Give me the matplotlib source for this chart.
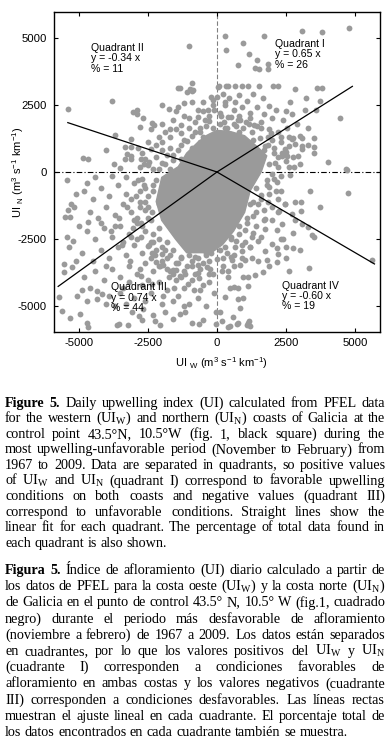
import numpy as np
import matplotlib
matplotlib.use("Agg")
from matplotlib import pyplot as plt
from matplotlib.patches import Polygon

plt.rcParams['axes.unicode_minus'] = False
plt.rcParams['mathtext.fontset'] = 'custom'
plt.rcParams['mathtext.rm'] = 'Liberation Serif'
plt.rcParams['mathtext.sf'] = 'Liberation Sans'

# --- datos (UI oeste, UI norte) ---
q1_x = [290, 1700, 3070, 3810, 4790, 330, 930, 1160, 770, 1440, 1380, 1520, 1860, 1830,
        70, 330, 650, 900, 1120, 1520, 2030, 2200, 2820, 3210, 3610, 3810, 3730, 4450,
        2730, 2820, 3090, 3500, 3090, 3510, 2520, 2940, 2490, 4660, 3510, 4030, 4700,
        3570, 2760, 3070, 2460, 2760, 2220, 2790,
        200, 450, 800, 1100, 1300, 1650, 1900, 2150, 2500, 2700, 2400, 2000, 1700, 1450,
        1200, 900, 600, 300, 100, 400, 750, 1050, 1350, 1600, 1900, 2200, 2550, 2900,
        3300, 3000, 2600, 2300, 2050, 1850, 1750, 2200, 2500, 3000, 3300, 3200, 2650,
        100, 350, 700, 50, 410,
        250, 600, 950, 1250, 1550, 1850, 2050, 2100, 2350, 150, 500, 850, 1150, 1450,
        2000, 2450, 800, 1200, 1600, 300, 650,
        1950, 2300, 2600, 2350, 2600]
q1_y = [5050, 5050, 5250, 5190, 5360, 4530, 4810, 4370, 3990, 4180, 3870, 3840, 4020, 3820,
        3200, 3200, 3200, 3200, 3200, 3200, 3200, 3200, 3070, 2750, 3120, 3120, 2650, 2000,
        1230, 1040, 1260, 1260, 860, 920, 610, 610, 735, 110, 690, 370, 60,
        2300, 1280, 960, 745, 560, 560, 190,
        2900, 2750, 2850, 2650, 2900, 2750, 2450, 2300, 2250, 2150, 1950, 2000, 2150, 2400,
        2200, 2400, 2300, 2500, 2200, 2050, 1950, 1850, 1750, 1650, 1600, 1500, 1650, 1800,
        1650, 1350, 1300, 1100, 900, 1300, 950, 200, 400, 300, 1000, 2300, 2600,
        1800, 1650, 1700, 3170, 3200,
        1850, 1800, 1650, 1500, 1250, 1000, 700, 350, 600, 2100, 2050, 1950, 1800, 1700,
        1200, 850, 2100, 2000, 1850, 2600, 2600,
        1450, 1300, 950, 700, 200]

q2_x = [-1000, -3800, -5400, -920, -1100, -1410, -900, -3050, -2900, -2880, -2670, -1740,
        -1980, -2340, -2280, -1980, -1580, -2790, -2380, -3120, -3700, -3320, -3120, -3250,
        -3120, -3340, -2860, -4840, -4670, -3730, -2760, -2640, -2460,
        -1900, -1700, -1500, -1300, -1200, -1000, -800, -600, -400, -300, -700, -1200,
        -1500, -2100, -2200, -2500, -2000, -1700, -1400, -1900, -2200, -1600, -2100, -2700,
        -3500, -4000, -200, -500, -900, -600, -350, -980, -860, -1340, -1400, -1200, -130,
        -10, -310,
        -2500, -2000, -1600, -1300, -900, -600, -300, -100, -1800, -1100, -800, -450,
        -2300, -2600, -2400, -2000, -1700, -1300, -1000, -700, -500, -150, -2800, -3100]
q2_y = [4700, 2650, 2330, 3310, 2975, 3120, 3010, 2230, 2290, 2165, 2000, 2350,
        2480, 1830, 1750, 1780, 1930, 1670, 1600, 1230, 1380, 920, 920, 670,
        485, 485, 880, 510, 485, 300, 485, 300, 360,
        1500, 1300, 1600, 1450, 1200, 1650, 1850, 1500, 1700, 2100, 2300, 2100,
        2250, 1300, 1000, 1100, 800, 900, 800, 300, 550, 450, 100, 700,
        150, 800, 2800, 2600, 2600, 1100, 1300, 3070, 3050, 3110, 2420, 2550, 2670,
        2800, 2300,
        250, 350, 650, 1000, 1350, 1650, 1900, 2300, 650, 1150, 1500, 1950,
        100, 500, 850, 1100, 1600, 1750, 2000, 2050, 2250, 2500, 200, 600]

q3_x = [-5420, -5300, -5320, -5180, -5420, -5200, -5360, -5540, -5240, -5540, -5720, -5380,
        -5500, -4660, -5620, -5310, -4700, -4660, -4960, -5060, -4360, -4330, -4180, -3630,
        -3540, -3210, -3090, -2810, -2670, -2240, -2060, -1580, -1340, -1160, -920, -640,
        -500, -40, -40, -4690,
        -4800, -4500, -4200, -3900, -3600, -3300, -3000, -2800, -4600, -4300, -4000, -3700,
        -3400, -3100, -2800, -2600, -4700, -4400, -4100, -3800, -3500, -3200, -2900, -2600,
        -2400, -4900, -4500, -4200, -3900, -3600, -3300, -3000, -2700, -2400, -2200, -4800,
        -4400, -4100, -3800, -3500, -3200, -2900, -2600, -2300, -2000, -1800, -1500, -1200,
        -900, -600, -300, -4600, -3900, -3400, -3000, -2700, -2400, -2100, -1800, -1500,
        -1200, -900, -600, -300, -100, -2000, -1600, -1000, -700, -400, -3700, -3300, -2600,
        -5100, -5000, -5100, -4400, -3800, -3300, -2700, -2500, -2300, -2100, -2400, -2100,
        -1900, -1700, -1300, -1000, -700, -400, -200, -1100, -1600, -2700, -1900, -3500,
        -4000, -4700, -4900, -4000, -3200, -2800, -2500, -2100, -3700, -3400, -4200, -3100,
        -2900, -800, -300, -1400, -500, -2300, -1200,
        -2600, -2600, -2500, -2300, -2000, -1800, -1400, -900, -500, -2800, -2750, -2450,
        -2200, -1950, -1600, -1150, -700, -250, -3000, -2850, -3100, -2350, -1700, -1300,
        -2900, -3050, -2750, -2500, -2250, -2050, -1750, -1350, -1050, -650, -350, -150,
        -2650, -2950, -3250, -3550, -3850, -3450, -3150, -2750, -2350, -1950, -1550, -850,
        -2500, -2700, -2300, -2000, -1500, -700]
q3_y = [-310, -1180, -1680, -1310, -2420, -2550, -2800, -3420, -3540, -3730, -4660, -1430,
        -1680, -1860, -5160, -5430, -5600, -5780, -5280, -4600, -4720, -4410, -4540, -5680,
        -5650, -5680, -5220, -5350, -5100, -5530, -5680, -5470, -5280, -5220, -5600, -5650,
        -5510, -5220, -5650, -410,
        -700, -1000, -600, -900, -500, -800, -400, -700, -1500, -1700, -1300, -1600,
        -1200, -1500, -1100, -1400, -2200, -2500, -2100, -2400, -2000, -2300, -1900, -2200,
        -1800, -3000, -3300, -2900, -3200, -2800, -3100, -2700, -3000, -2600, -2900, -3900,
        -3700, -4000, -3600, -3900, -3500, -3800, -3400, -3700, -3300, -3600, -3400, -3700,
        -3300, -3600, -3300, -4300, -4600, -4300, -4700, -4200, -4500, -4100, -4400, -4000,
        -4300, -4000, -4400, -4100, -4500, -4900, -4800, -4900, -4700, -5000, -5000, -4900, -4800,
        -3300, -2000, -800, -200, -150, -200, -250, -900, -500, -1200, -3200, -2500,
        -2900, -3100, -3200, -3100, -3200, -3000, -3000, -3500, -3800, -5500, -5200, -4500,
        -4900, -4800, -4400, -3500, -4100, -3600, -4000, -3500, -2000, -2600, -1900, -1000,
        -2500, -3800, -3800, -4600, -4200, -5300, -5000,
        -600, -1100, -1700, -2300, -2800, -3200, -3400, -3500, -3400, -1300, -1900, -2700,
        -3350, -3450, -3650, -3800, -3450, -3600, -1800, -300, -2400, -3000, -3700, -3900,
        -1700, -2100, -2400, -2750, -3100, -3500, -3900, -3850, -4150, -3950, -3550, -3800,
        -500, -900, -1300, -1700, -2200, -2700, -3300, -3850, -4150, -4600, -4300, -4400,
        -1300, -2000, -2600, -3050, -3650, -3750]

q4_x = [4730, 3370, 3730, 2820, 3040, 3040, 2460, 3310, 3450, 3520, 2740, 3340, 5620,
        2760, 2490, 2160, 2200, 1740, 1800, 2160, 1280, 1680, 1380, 1130, 950, 1130, 410,
        470, 630, 770, 950, 770, 830, 410, 770, 1130, 1190, 110, 190, 290, 1740, 1980,
        2160, 2340, 2400, 2700, 2820, 3060, 1260, 1500, 1980, 650, 890, 1010, 530, 410,
        170, 470, 730, 1070, 1170, 590, 2640, 1980, 2160,
        1600, 1900, 2200, 1400, 1700, 2000, 1100, 1400, 800, 1000, 500, 300, 600, 200,
        1500, 2500, 1900, 2600, 3000, 2300, 1200, 1800,
        2050, 1900, 1600, 1500, 1300, 1000, 700, 350, 0, 2300, 2250, 1750, 1200, 850,
        2300, 2150, 1850, 1700, 1300, 900, 500, 200, 1200, 1600, 2450, 2200, 600, 900]
q4_y = [-770, -710, -1310, -1120, -1120, -1450, -1180, -2050, -2360, -2400, -2270, -3560, -3270,
        -2830, -2800, -2820, -3040, -2920, -3290, -3360, -3190, -3730, -3820, -3890, -3890, -4230, -3920,
        -4310, -4290, -4310, -4680, -4720, -5060, -5780, -5600, -5600, -5720, -5220, -5530, -4660, -2110, -1800,
        -2170, -1920, -2480, -1550, -1800, -1920, -2420, -2550, -2670, -2800, -2920, -3290, -3290, -3670,
        -3670, -5720, -5650, -5680, -5530, -5410, -120, -60, -370,
        -1000, -800, -1000, -1500, -1400, -1300, -1900, -2000, -2300, -2600, -2400, -2800, -3100, -3200,
        -3300, -3200, -3500, -3700, -2900, -2500, -1200, -500,
        -250, -550, -850, -1200, -1650, -2150, -2550, -3000, -3250, -700, -1450, -1750, -2800, -3450,
        -150, -700, -1100, -1800, -2250, -2700, -3150, -3500, -2800, -2400, -1200, -1500, -3500, -3200]

# borde del nucleo denso (solapamiento total de puntos)
core_x = [0, 500, 1000, 1500, 1800, 1600, 1200, 1000, 600, 200, -200, -1100, -1500,
          -2000, -2200, -2000, -1400, -1100, -700, -300]
core_y = [1550, 1500, 1350, 900, 600, 0, -700, -1500, -2200, -2700, -3000, -3000, -2500,
          -1800, -1100, -200, 200, 700, 1100, 1400]
edge_x = [-2300, -2350, -2100, -1800, -1600, -1300, -800, -400, -2200, -1700, -1300, -900,
          -500, -150, 300, 800, 1300, 1700, 1900, 1800, 1400, 1300, 1100, 800, 500, 100]
edge_y = [-700, -1500, -2100, -2600, -2900, -3150, -3150, -3100, -300, 100, 500, 900,
          1300, 1650, 1650, 1500, 1200, 800, 300, -300, -600, -1100, -1700, -2000, -2500, -2900]

# ajuste lineal por cuadrante
quad_names = ['Quadrant I', 'Quadrant II', 'Quadrant III', 'Quadrant IV']
quad_slope = [0.65, -0.34, 0.74, -0.60]
quad_pct = [26, 11, 44, 19]
quad_xend = [4900, -5400, -5750, 5700]

ticks = [-5000, -2500, 0, 2500, 5000]

W, H = 392, 753
fig = plt.figure(figsize=(W / 100, H / 100), dpi=100)
ax = fig.add_axes([54 / W, 1 - 332 / H, 326 / W, 320 / H])

gris = '#9a9a9a'
ax.axhline(0, color='black', lw=0.8, ls=(0, (5, 2, 1, 2)), zorder=1)
ax.axvline(0, color='#808080', lw=0.8, ls=(0, (4, 2)), zorder=1)

ax.add_patch(Polygon(np.column_stack([core_x, core_y]), closed=True, fc=gris, ec=gris, lw=1, zorder=2))
for xs, ys in [(q1_x, q1_y), (q2_x, q2_y), (q3_x, q3_y), (q4_x, q4_y), (edge_x, edge_y)]:
    ax.plot(xs, ys, 'o', color=gris, ms=4.2, mew=0, zorder=2)

for m, xe in zip(quad_slope, quad_xend):
    ax.plot([0, xe], [0, m * xe], color='black', lw=0.9, zorder=3)

fuente = 'Liberation Sans'
pos_txt = [(2100, 4950), (-4560, 4800), (-3830, -4100), (2340, -4040)]
for nombre, m, p, (tx, ty) in zip(quad_names, quad_slope, quad_pct, pos_txt):
    ax.text(tx, ty, "%s\ny = %.2f x\n%% = %d" % (nombre, m, p), family=fuente, fontsize=7.6,
            va='top', ha='left', linespacing=1.05, zorder=4)

ax.set_xlim(-5900, 5900)
ax.set_ylim(-5950, 5950)
ax.set_xticks(ticks)
ax.set_yticks(ticks)
ax.tick_params(direction='in', top=True, right=True, length=3, width=0.8, labelsize=8.2)
ax.tick_params(axis='x', pad=4)
ax.tick_params(axis='y', pad=5)
for lab in ax.get_xticklabels() + ax.get_yticklabels():
    lab.set_family(fuente)
for s in ax.spines.values():
    s.set_linewidth(1.0)

fig.text(221 / W, 1 - 363 / H, r"UI $_\mathsf{W}$ (m$^\mathsf{3}$ s$^\mathsf{-1}$ km$^\mathsf{-1}$)",
         family=fuente, fontsize=8.0, ha='center', va='center')
fig.text(18 / W, 1 - 172 / H, r"UI $_\mathsf{N}$ (m$^\mathsf{3}$ s$^\mathsf{-1}$ km$^\mathsf{-1}$)",
         family=fuente, fontsize=8.0, ha='center', va='center', rotation=90)

# --- pie de figura justificado ---
ingles = [
    "Figure 5. Daily upwelling index (UI) calculated from PFEL data",
    "for the western (UI$_\\mathrm{W}$) and northern (UI$_\\mathrm{N}$) coasts of Galicia at the",
    "control point 43.5°N, 10.5°W (fig. 1, black square) during the",
    "most upwelling-unfavorable period (November to February) from",
    "1967 to 2009. Data are separated in quadrants, so positive values",
    "of UI$_\\mathrm{W}$ and UI$_\\mathrm{N}$ (quadrant I) correspond to favorable upwelling",
    "conditions on both coasts and negative values (quadrant III)",
    "correspond to unfavorable conditions. Straight lines show the",
    "linear fit for each quadrant. The percentage of total data found in",
    "each quadrant is also shown.",
]
espanol = [
    "Figura 5. Índice de afloramiento (UI) diario calculado a partir de",
    "los datos de PFEL para la costa oeste (UI$_\\mathrm{W}$) y la costa norte (UI$_\\mathrm{N}$)",
    "de Galicia en el punto de control 43.5° N, 10.5° W (fig.1, cuadrado",
    "negro) durante el periodo más desfavorable de afloramiento",
    "(noviembre a febrero) de 1967 a 2009. Los datos están separados",
    "en cuadrantes, por lo que los valores positivos del UI$_\\mathrm{W}$ y UI$_\\mathrm{N}$",
    "(cuadrante I) corresponden a condiciones favorables de",
    "afloramiento en ambas costas y los valores negativos (cuadrante",
    "III) corresponden a condiciones desfavorables. Las líneas rectas",
    "muestran el ajuste lineal en cada cuadrante. El porcentaje total de",
    "los datos encontrados en cada cuadrante también se muestra.",
]

renderer = fig.canvas.get_renderer()
x0, x1 = 5, 385
tam = 10.2


def linea(texto, y, ultima):
    palabras = texto.split(' ')
    objs = []
    for i, w in enumerate(palabras):
        negrita = texto.startswith('Figur') and i < 2
        t = fig.text(0, 1 - y / H, w, family='Liberation Serif', fontsize=tam,
                     weight='bold' if negrita else 'normal', va='baseline', ha='left')
        objs.append(t)
    anchos = [t.get_window_extent(renderer).width for t in objs]
    espacio = tam * 100 / 72 * 0.25
    if ultima or len(objs) == 1:
        hueco = espacio
    else:
        hueco = (x1 - x0 - sum(anchos)) / (len(objs) - 1)
    # si no cabe, reducir el tamano de esa linea
    if hueco < 2.5:
        f = (x1 - x0 - 2.5 * (len(objs) - 1)) / sum(anchos)
        for t in objs:
            t.set_fontsize(tam * f)
        anchos = [a * f for a in anchos]
        hueco = 2.5
    x = x0
    for t, a in zip(objs, anchos):
        t.set_x(x / W)
        x += a + hueco


for i, l in enumerate(ingles):
    linea(l, 406.7 + i * 15.56, i == len(ingles) - 1)
for i, l in enumerate(espanol):
    linea(l, 574 + i * 16.2, i == len(espanol) - 1)

fig.savefig('out.png', dpi=100)
